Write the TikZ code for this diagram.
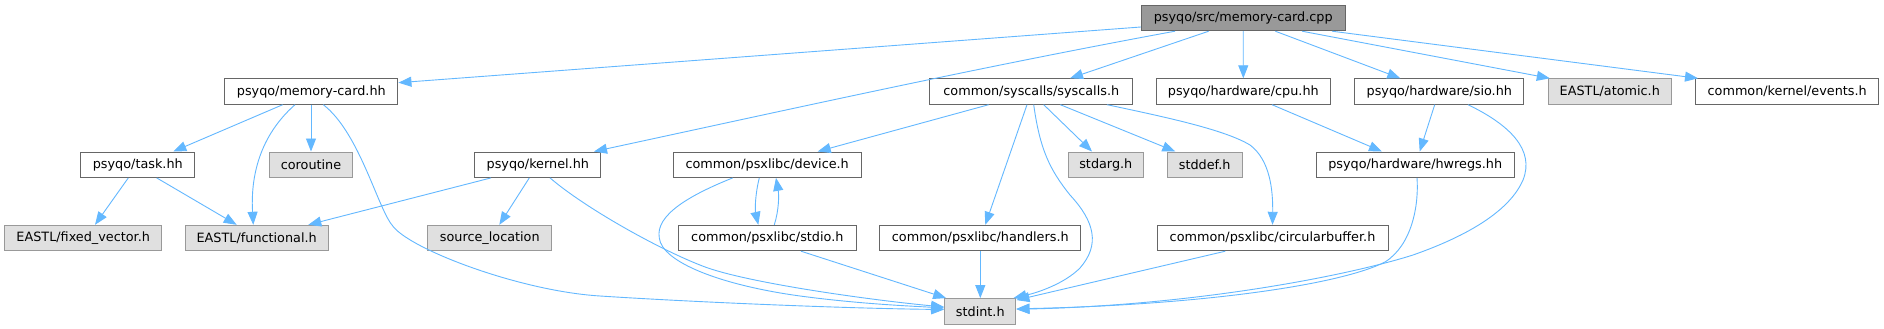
\documentclass[tikz,border=0pt]{standalone}
\usepackage{fontspec}
\usetikzlibrary{arrows.meta}
\newfontfamily\dejavu{DejaVu Sans}
\definecolor{edgeblue}{HTML}{63B8FF}
\definecolor{bordA}{HTML}{666666}
\definecolor{bordB}{HTML}{999999}
\definecolor{extfill}{HTML}{E0E0E0}
\definecolor{rootfill}{HTML}{999999}
\tikzset{
  box/.style={draw=bordA, fill=white, line width=1pt, minimum height=25.4pt, inner sep=0pt, anchor=center,
              font={\dejavu\fontsize{12.8}{14}\selectfont}, text=black},
  ext/.style={box, draw=bordB, fill=extfill},
  rootbox/.style={box, draw=bordA, fill=rootfill},
  dep/.style={draw=edgeblue, line width=0.9pt, -{Triangle[length=13pt,width=10pt]}},
}
\begin{document}
\begin{tikzpicture}[x=1pt,y=-1pt]
\fill[white] (0,0) rectangle (1884,329);
\useasboundingbox (0,0) rectangle (1884,329);

% nodes
\node[rootbox, minimum width=203.7pt] (cpp) at (1243.2,18) {psyqo/src/memory-card.cpp};
\node[box, minimum width=173.3pt] (memcard) at (311.3,91.5) {psyqo/memory-card.hh};
\node[box, minimum width=202.7pt] (syscalls) at (1031.3,91.5) {common/syscalls/syscalls.h};
\node[box, minimum width=174pt] (cpu) at (1243.3,91.5) {psyqo/hardware/cpu.hh};
\node[box, minimum width=169.3pt] (sio) at (1439.3,91.5) {psyqo/hardware/sio.hh};
\node[ext, minimum width=123pt] (atomic) at (1609.8,91.5) {EASTL/atomic.h};
\node[box, minimum width=183pt] (events) at (1787.2,91.5) {common/kernel/events.h};
\node[box, minimum width=113.7pt] (task) at (137.8,164.7) {psyqo/task.hh};
\node[ext, minimum width=83.3pt] (coroutine) at (311,164.7) {coroutine};
\node[box, minimum width=125.7pt] (kernel) at (537.8,164.7) {psyqo/kernel.hh};
\node[box, minimum width=188.3pt] (device) at (767.2,164.7) {common/psxlibc/device.h};
\node[ext, minimum width=75pt] (stdarg) at (1105.8,164.7) {stdarg.h};
\node[ext, minimum width=74.7pt] (stddef) at (1204.7,164.7) {stddef.h};
\node[box, minimum width=197.7pt] (hwregs) at (1415.2,164.7) {psyqo/hardware/hwregs.hh};
\node[ext, minimum width=157pt] (fixedvec) at (83.2,238) {EASTL/fixed\_vector.h};
\node[ext, minimum width=143.3pt] (functional) at (256.7,238) {EASTL/functional.h};
\node[ext, minimum width=124.3pt] (srcloc) at (489.8,238) {source\_location};
\node[box, minimum width=178pt] (stdio) at (767.3,238) {common/psxlibc/stdio.h};
\node[box, minimum width=201.3pt] (handlers) at (980.3,238) {common/psxlibc/handlers.h};
\node[box, minimum width=231pt] (circbuf) at (1272.5,238) {common/psxlibc/circularbuffer.h};
\node[ext, minimum width=71.3pt] (stdint) at (980.3,311.3) {stdint.h};

% edges from root
\draw[dep] ([yshift=-9pt]cpp.west) -- ([yshift=8.8pt]memcard.east);
\draw[dep] ([xshift=-68.2pt]cpp.south) .. controls (975,68) and (794,108.4) .. ([xshift=56.2pt]kernel.north);
\draw[dep] ([xshift=-34.5pt]cpp.south) -- ([xshift=38.7pt]syscalls.north);
\draw[dep] (cpp.south) -- (cpu.north);
\draw[dep] ([xshift=32.1pt]cpp.south) -- ([xshift=-39pt]sio.north);
\draw[dep] ([xshift=58.8pt]cpp.south) -- ([xshift=-60pt]atomic.north);
\draw[dep] ([xshift=88.8pt]cpp.south) -- ([xshift=-89.2pt]events.north);

% memory-card.hh
\draw[dep] ([xshift=-28.6pt]memcard.south) -- ([xshift=35.5pt]task.north);
\draw[dep] ([xshift=-16.3pt]memcard.south) .. controls (255,140) and (251,185) .. ([xshift=-3.4pt]functional.north);
\draw[dep] ([xshift=-0.3pt]memcard.south) -- (coroutine.north);
\draw[dep] ([xshift=12pt]memcard.south) .. controls (360,133) and (378,210) .. (393.3,226.7)
  .. controls (412,250) and (520,291) .. (600,296)
  .. controls (700,302.5) and (850,308.5) .. ([yshift=1.8pt]stdint.west);

% task.hh
\draw[dep] ([xshift=-9.5pt]task.south) -- ([xshift=11.8pt]fixedvec.north);
\draw[dep] ([xshift=18.9pt]task.south) -- ([xshift=-20pt]functional.north);

% kernel.hh
\draw[dep] ([xshift=-46.8pt]kernel.south) -- ([xshift=51.6pt]functional.north);
\draw[dep] ([xshift=-8.5pt]kernel.south) -- ([xshift=9.5pt]srcloc.north);
\draw[dep] ([xshift=12.2pt]kernel.south) .. controls (585,208) and (660,250) .. (704.3,266.7)
  .. controls (748,283) and (870,300) .. ([yshift=4.3pt]stdint.west);

% syscalls.h
\draw[dep] ([xshift=-42.6pt]syscalls.south) -- ([xshift=50.5pt]device.north);
\draw[dep] ([xshift=-4.3pt]syscalls.south) -- ([xshift=5pt]handlers.north);
\draw[dep] ([xshift=2.4pt]syscalls.south) .. controls (1040,150) and (1050,170) .. (1070,195)
  .. controls (1095,222) and (1100,245) .. (1080,268)
  .. controls (1065,283) and (1040,292) .. ([xshift=-3pt]stdint.north east);
\draw[dep] ([xshift=12.4pt]syscalls.south) -- ([xshift=-13.8pt]stdarg.north);
\draw[dep] ([xshift=29pt]syscalls.south) -- ([xshift=-29.4pt]stddef.north);
\draw[dep] ([xshift=75.7pt]syscalls.south) .. controls (1170,118) and (1225,130) .. (1250,145)
  .. controls (1270,160) and (1273,190) .. (circbuf.north);

% cpu.hh
\draw[dep] ([xshift=28.7pt]cpu.south) -- ([xshift=-33.2pt]hwregs.north);

% sio.hh
\draw[dep] ([xshift=-4.6pt]sio.south) -- ([xshift=4.5pt]hwregs.north);
\draw[dep] ([xshift=28.7pt]sio.south) .. controls (1510,125) and (1535,150) .. (1523,180)
  .. controls (1510,210) and (1470,235) .. (1413,255)
  .. controls (1350,275) and (1200,305) .. ([yshift=2pt]stdint.east);

% hwregs.hh
\draw[dep] ([xshift=1.8pt]hwregs.south) .. controls (1419,205) and (1412,245) .. (1385,262)
  .. controls (1340,285) and (1200,305) .. ([yshift=2.5pt]stdint.east);

% device.h / stdio.h
\draw[dep] ([xshift=-7.9pt]device.south) .. controls (755,195) and (755,210) .. ([xshift=-9pt]stdio.north);
\draw[dep] ([xshift=7pt]stdio.north) .. controls (779,210) and (779,195) .. ([xshift=8.8pt]device.south);
\draw[dep] ([xshift=-34.5pt]device.south) .. controls (690,195) and (655,215) .. (659.3,238)
  .. controls (662,262) and (720,285) .. (800,296)
  .. controls (860,304) and (910,306) .. ([yshift=3.3pt]stdint.west);
\draw[dep] ([xshift=33.7pt]stdio.south) -- ([xshift=2pt]stdint.north west);

% handlers.h, circularbuffer.h
\draw[dep] (handlers.south) -- (stdint.north);
\draw[dep] ([xshift=-47.2pt]circbuf.south) -- ([yshift=-2pt]stdint.north east);
\end{tikzpicture}
\end{document}
